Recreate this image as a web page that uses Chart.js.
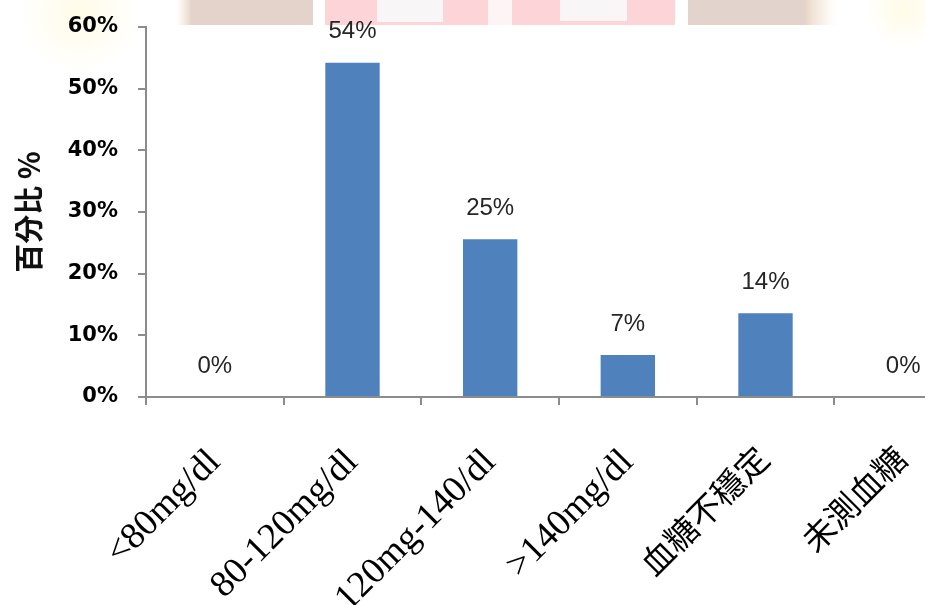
<!DOCTYPE html>
<html>
<head>
<meta charset="utf-8">
<script src="https://cdn.jsdelivr.net/npm/chart.js@4"></script>
<style>
  html, body { margin: 0; padding: 0; background: #ffffff; overflow: hidden; }
  #wrap { width: 925px; height: 605px; overflow: hidden; }
</style>
</head>
<body>
<div id="wrap">
  <canvas id="sugarChart" width="972" height="605"></canvas>
</div>
<script>
// categories, values (%) and the printed labels
const categories = ["<80mg/dl", "80-120mg/dl", "120mg-140/dl", ">140mg/dl", "血糖不穩定", "未測血糖"];
const percentValues = [0, 54.2, 25.6, 6.8, 13.6, 0];
const percentLabels = ["0%", "54%", "25%", "7%", "14%", "0%"];
const yTicks = [0, 10, 20, 30, 40, 50, 60];

const axisGray = "#8c8c8c";

// faded banner strip at the top of the slide
const bannerPlugin = {
  id: "banner",
  beforeDraw(chart) {
    const ctx = chart.ctx;
    ctx.save();
    ctx.fillStyle = "#ffffff";
    ctx.fillRect(0, 0, chart.width, chart.height);

    const glow = (cx, cy, r) => {
      const g = ctx.createRadialGradient(cx, cy, 0, cx, cy, r);
      g.addColorStop(0, "rgba(255, 248, 210, 0.55)");
      g.addColorStop(1, "rgba(255, 248, 210, 0)");
      ctx.fillStyle = g;
      ctx.fillRect(cx - r, 0, r * 2, 120);
    };
    glow(80, 15, 60);
    glow(905, 10, 40);

    const h = 25;
    ctx.fillStyle = "#e3d3ca";
    ctx.fillRect(190, 0, 123, h);
    let g = ctx.createLinearGradient(176, 0, 192, 0);
    g.addColorStop(0, "rgba(245, 222, 200, 0)");
    g.addColorStop(1, "#e3d3ca");
    ctx.fillStyle = g;
    ctx.fillRect(176, 0, 16, h);

    ctx.fillStyle = "#fdd5d8";
    ctx.fillRect(325, 0, 350, h);
    ctx.fillStyle = "#f8f6f6";
    ctx.fillRect(377, 0, 66, h - 3);
    ctx.fillRect(560, 0, 67, h - 4);
    ctx.fillStyle = "#fcf4f5";
    ctx.fillRect(488, 0, 24, h);

    ctx.fillStyle = "#e2d4cc";
    ctx.fillRect(688, 0, 119, h);
    g = ctx.createLinearGradient(805, 0, 838, 0);
    g.addColorStop(0, "#e8d6c8");
    g.addColorStop(1, "rgba(250, 235, 215, 0)");
    ctx.fillStyle = g;
    ctx.fillRect(805, 0, 33, h);
    ctx.restore();
  },
};

// percentage printed above every bar
const valueLabelPlugin = {
  id: "valueLabels",
  afterDatasetsDraw(chart) {
    const ctx = chart.ctx;
    const meta = chart.getDatasetMeta(0);
    ctx.save();
    ctx.font = "24px 'Liberation Sans', Arial, sans-serif";
    ctx.fillStyle = "#262626";
    ctx.textAlign = "center";
    ctx.textBaseline = "middle";
    meta.data.forEach((bar, i) => {
      ctx.fillText(percentLabels[i], bar.x, bar.y - 31);
    });
    ctx.restore();
  },
};

function noPadding(scale) {
  scale.paddingLeft = 0;
  scale.paddingRight = 0;
  scale.paddingTop = 0;
  scale.paddingBottom = 0;
}

new Chart(document.getElementById("sugarChart"), {
  type: "bar",
  data: {
    labels: categories,
    datasets: [
      {
        data: percentValues,
        backgroundColor: "#4f81bd",
        borderWidth: 0,
        categoryPercentage: 1,
        barPercentage: 0.395,
      },
    ],
  },
  options: {
    responsive: false,
    animation: false,
    layout: { padding: { top: 27, right: 0, left: 0, bottom: 0 } },
    plugins: {
      legend: { display: false },
      tooltip: { enabled: false },
    },
    scales: {
      x: {
        grid: {
          offset: true,
          drawOnChartArea: false,
          drawTicks: true,
          tickLength: 8,
          color: axisGray,
          lineWidth: 2,
        },
        border: { color: axisGray, width: 2 },
        ticks: {
          autoSkip: false,
          minRotation: 45,
          maxRotation: 45,
          padding: 36,
          color: "#000000",
          font: (c) => ({
            family: "'Liberation Serif', 'Noto Sans CJK TC', serif",
            size: c.index >= 4 ? 33 : 37,
          }),
        },
        afterFit(scale) {
          scale.height = 208;
          noPadding(scale);
        },
      },
      y: {
        min: 0,
        max: 60,
        afterBuildTicks(scale) {
          scale.ticks = yTicks.map((v) => ({ value: v }));
        },
        grid: {
          drawOnChartArea: false,
          drawTicks: true,
          tickLength: 8,
          color: axisGray,
          lineWidth: 2,
        },
        border: { color: axisGray, width: 2 },
        ticks: {
          padding: 20,
          color: "#000000",
          font: { family: "'DejaVu Sans', sans-serif", size: 21, weight: "bold" },
          callback: (v) => v + "%",
        },
        title: {
          display: true,
          text: "百分比 %",
          color: "#111111",
          padding: { top: 12, bottom: 0 },
          font: { family: "'Noto Sans CJK TC', sans-serif", size: 29, weight: "bold" },
        },
        afterFit(scale) {
          scale.width = 146;
          noPadding(scale);
        },
      },
    },
  },
  plugins: [bannerPlugin, valueLabelPlugin],
});
</script>
</body>
</html>
